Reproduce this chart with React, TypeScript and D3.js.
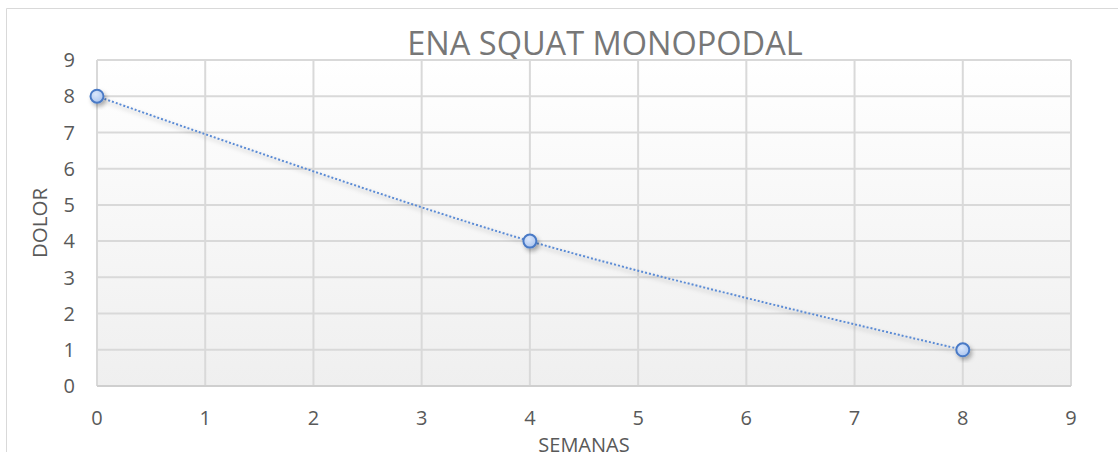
import React from 'react';
import * as d3 from 'd3';

const semanas = [0, 4, 8];
const dolor = [8, 4, 1];
const xTicks = [0, 1, 2, 3, 4, 5, 6, 7, 8, 9];
const yTicks = [0, 1, 2, 3, 4, 5, 6, 7, 8, 9];

const W = 1118;
const H = 457;
const FONT = '"Open Sans", "Noto Sans", sans-serif';

const App = () => {
  const x = d3.scaleLinear().domain([0, 9]).range([97, 1071]);
  const y = d3.scaleLinear().domain([0, 9]).range([386, 60]);

  const points = semanas.map((s, i) => ({ x: s, y: dolor[i] }));
  const line = d3.line<{ x: number; y: number }>()
    .x((d) => x(d.x))
    .y((d) => y(d.y))
    .curve(d3.curveCatmullRom.alpha(0.5));
  const path = line(points) || '';

  return (
    <svg width={W} height={H} style={{ position: 'absolute', left: 0, top: 0, fontFamily: FONT }}>
      <defs>
        <linearGradient id="plotBg" x1="0" y1="0" x2="0" y2="1">
          <stop offset="0%" stopColor="#ffffff" />
          <stop offset="100%" stopColor="#efefef" />
        </linearGradient>
        <radialGradient id="markerFill" cx="40%" cy="35%" r="70%">
          <stop offset="0%" stopColor="#dbe7fb" />
          <stop offset="100%" stopColor="#a8c3ee" />
        </radialGradient>
        <filter id="shadow" x="-50%" y="-50%" width="200%" height="200%">
          <feDropShadow dx="2" dy="3" stdDeviation="2" floodColor="#000" floodOpacity="0.3" />
        </filter>
      </defs>

      <rect x={0} y={0} width={W} height={H} fill="#fff" />
      {/* chart frame */}
      <line x1={6.5} y1={8.5} x2={W} y2={8.5} stroke="#d9d9d9" strokeWidth={1} />
      <line x1={6.5} y1={8.5} x2={6.5} y2={452} stroke="#d9d9d9" strokeWidth={1} />

      <text x={605} y={55} textAnchor="middle" fontSize={32.5} fill="#777777">ENA SQUAT MONOPODAL</text>

      {/* plot area */}
      <rect x={x(0)} y={y(9)} width={x(9) - x(0)} height={y(0) - y(9)} fill="url(#plotBg)" />

      {yTicks.map((t) => (
        <line key={`gy${t}`} x1={x(0)} x2={x(9)} y1={y(t)} y2={y(t)} stroke="#d9d9d9" strokeWidth={2} />
      ))}
      {xTicks.map((t) => (
        <line key={`gx${t}`} x1={x(t)} x2={x(t)} y1={y(0)} y2={y(9)} stroke="#d9d9d9" strokeWidth={2} />
      ))}
      <line x1={x(0)} x2={x(9)} y1={y(0)} y2={y(0)} stroke="#cfcfcf" strokeWidth={2} />

      {yTicks.map((t) => (
        <text key={`ly${t}`} x={75} y={y(t)} dy="0.36em" textAnchor="end" fontSize={20} fill="#595959">{t}</text>
      ))}
      {xTicks.map((t) => (
        <text key={`lx${t}`} x={x(t)} y={418} dy="0.36em" textAnchor="middle" fontSize={20} fill="#595959">{t}</text>
      ))}

      <text x={584} y={452} textAnchor="middle" fontSize={20} fill="#595959">SEMANAS</text>
      <text transform={`translate(40, ${(y(0) + y(9)) / 2}) rotate(-90)`} dy="0.36em" textAnchor="middle" fontSize={20.5} fill="#595959">DOLOR</text>

      <path d={path} fill="none" stroke="#5b8bd4" strokeWidth={2} strokeDasharray="2 2" filter="url(#shadow)" />

      {points.map((p, i) => (
        <circle key={i} cx={x(p.x)} cy={y(p.y)} r={6.5} fill="url(#markerFill)" stroke="#4a7ac6" strokeWidth={2} filter="url(#shadow)" />
      ))}
    </svg>
  );
};

export default App;
